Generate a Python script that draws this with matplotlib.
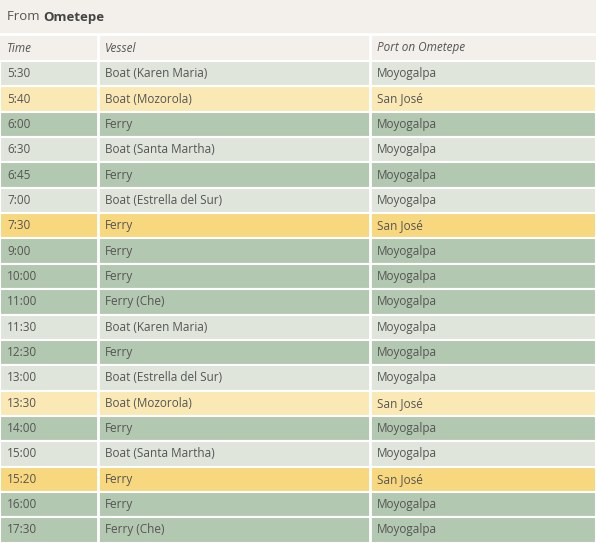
import matplotlib.pyplot as plt
from matplotlib.patches import Rectangle

# === Data ===
times = ["5:30", "5:40", "6:00", "6:30", "6:45", "7:00", "7:30", "9:00", "10:00",
         "11:00", "11:30", "12:30", "13:00", "13:30", "14:00", "15:00", "15:20",
         "16:00", "17:30"]
vessels = ["Boat (Karen Maria)", "Boat (Mozorola)", "Ferry", "Boat (Santa Martha)",
           "Ferry", "Boat (Estrella del Sur)", "Ferry", "Ferry", "Ferry", "Ferry (Che)",
           "Boat (Karen Maria)", "Ferry", "Boat (Estrella del Sur)", "Boat (Mozorola)",
           "Ferry", "Boat (Santa Martha)", "Ferry", "Ferry", "Ferry (Che)"]
ports = ["Moyogalpa", "San José", "Moyogalpa", "Moyogalpa", "Moyogalpa", "Moyogalpa",
         "San José", "Moyogalpa", "Moyogalpa", "Moyogalpa", "Moyogalpa", "Moyogalpa",
         "Moyogalpa", "San José", "Moyogalpa", "Moyogalpa", "San José", "Moyogalpa",
         "Moyogalpa"]
headers = ["Time", "Vessel", "Port on Ometepe"]

# === Style ===
W, H = 596, 543
BG = "#f3efea"
TXT = "#555555"
COLORS = {("Boat", "Moyogalpa"): "#dfe5da", ("Boat", "San José"): "#fbe9b5",
          ("Ferry", "Moyogalpa"): "#b3c8b0", ("Ferry", "San José"): "#f8d87e"}
col_x = [0, 98, 370, W]
row_top, row_h = 61, 25.35

fig = plt.figure(figsize=(W / 100, H / 100), dpi=100, facecolor=BG)
ax = fig.add_axes([0, 0, 1, 1])
ax.set_xlim(0, W)
ax.set_ylim(H, 0)
ax.axis("off")

ax.text(7, 17, "From ", fontsize=9.5, color=TXT, va="center", family="Open Sans")
ax.text(43, 17, "Ometepe", fontsize=9.5, color="#444444", va="center",
        family="Open Sans", fontweight="bold")
ax.axhline(34, color="white", lw=2)

# header
for i, h in enumerate(headers):
    ax.text(col_x[i] + 7, 48, h, fontsize=8.5, color=TXT, va="center",
            style="italic", family="Open Sans")

for r, (t, v, p) in enumerate(zip(times, vessels, ports)):
    y = row_top + r * row_h
    kind = "Ferry" if v.startswith("Ferry") else "Boat"
    ax.add_patch(Rectangle((0, y), W, row_h, facecolor=COLORS[(kind, p)],
                           edgecolor="white", lw=1.5))
    for i, s in enumerate([t, v, p]):
        ax.text(col_x[i] + 7, y + row_h / 2, s, fontsize=8.5, color=TXT,
                va="center", family="Open Sans")

for x in col_x[1:3]:
    ax.plot([x, x], [35, H], color="white", lw=2)

fig.savefig("out.png", dpi=100, facecolor=BG)
